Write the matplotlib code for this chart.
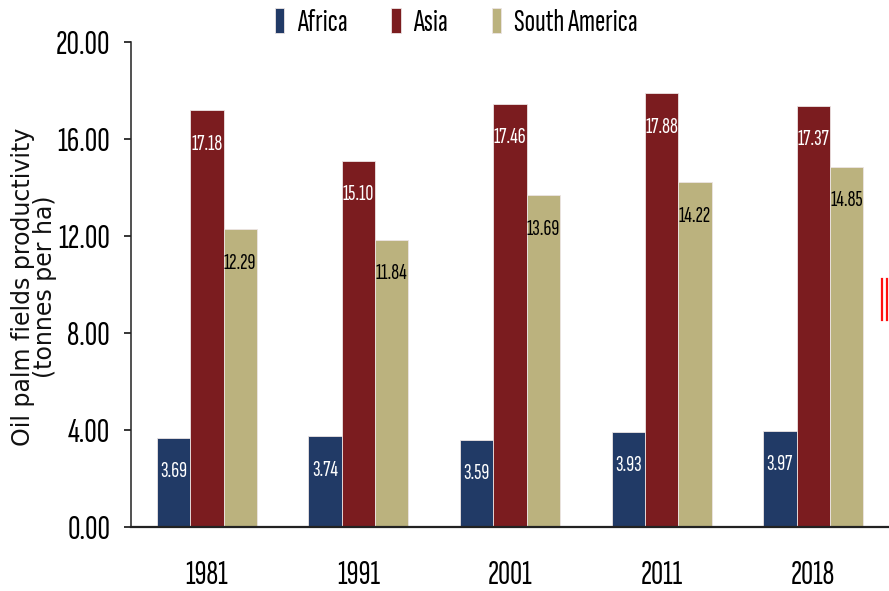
import matplotlib
matplotlib.use("Agg")
import matplotlib.pyplot as plt
from matplotlib.lines import Line2D
import numpy as np

years = ["1981", "1991", "2001", "2011", "2018"]
africa = [3.69, 3.74, 3.59, 3.93, 3.97]
asia = [17.18, 15.10, 17.46, 17.88, 17.37]
south_america = [12.29, 11.84, 13.69, 14.22, 14.85]

series = [
    ("Africa", africa, "#213A66", "white"),
    ("Asia", asia, "#7B1C1F", "white"),
    ("South America", south_america, "#BBB27E", "black"),
]

NARROW = ["Sofia Sans Extra Condensed", "DejaVu Sans"]

fig = plt.figure(figsize=(8.89, 5.91), dpi=100)
ax = fig.add_axes([0.1474, 0.1083, 0.8526, 0.8206])

x = np.arange(len(years))
width = 0.22
for i, (name, vals, color, txt_color) in enumerate(series):
    pos = x + (i - 1) * width
    bars = ax.bar(pos, vals, width=width, color=color, edgecolor="#ece4e4",
                  linewidth=0.6, label=name, zorder=2)
    for b, v in zip(bars, vals):
        ax.annotate(f"{v:.2f}", (b.get_x() + b.get_width() / 2, v),
                    xytext=(0, -24.5), textcoords="offset points",
                    ha="center", va="center", color=txt_color,
                    fontsize=16, family=NARROW, zorder=3)

ax.set_xlim(-0.5, 4.5)
ax.set_ylim(0, 20)
ax.set_yticks(np.arange(0, 20.01, 4))
ax.set_yticklabels([f"{v:.2f}" for v in np.arange(0, 20.01, 4)])
ax.set_xticks(x)
ax.set_xticklabels(years)

for lbl in ax.get_yticklabels():
    lbl.set_family(NARROW)
    lbl.set_fontsize(25)
for lbl in ax.get_xticklabels():
    lbl.set_family(NARROW)
    lbl.set_fontsize(24)

ax.tick_params(axis="x", length=0, pad=24)
ax.tick_params(axis="y", length=5, width=1.1, pad=10, direction="out")

for side in ("top", "right"):
    ax.spines[side].set_visible(False)
ax.spines["left"].set_linewidth(1.1)
ax.spines["bottom"].set_linewidth(1.6)
ax.spines["left"].set_color("#222222")
ax.spines["bottom"].set_color("#222222")

fig.text(0.038, 0.515, "Oil palm fields productivity\n(tonnes per ha)",
         rotation=90, ha="center", va="center", fontsize=17,
         family="DejaVu Sans", linespacing=0.9, color="#111111")

fig.legend(loc="center", bbox_to_anchor=(0.513, 0.962), ncol=3, frameon=False,
           prop={"family": NARROW, "size": 22.5}, handlelength=0.3,
           handleheight=0.85, handletextpad=0.4, columnspacing=1.4)

# small red double stroke on the right edge
for xf in (0.9925, 0.9975):
    fig.add_artist(Line2D([xf, xf], [0.459, 0.528], color="#FF1010",
                          linewidth=1.6, transform=fig.transFigure))

fig.savefig("out.png", dpi=100)
